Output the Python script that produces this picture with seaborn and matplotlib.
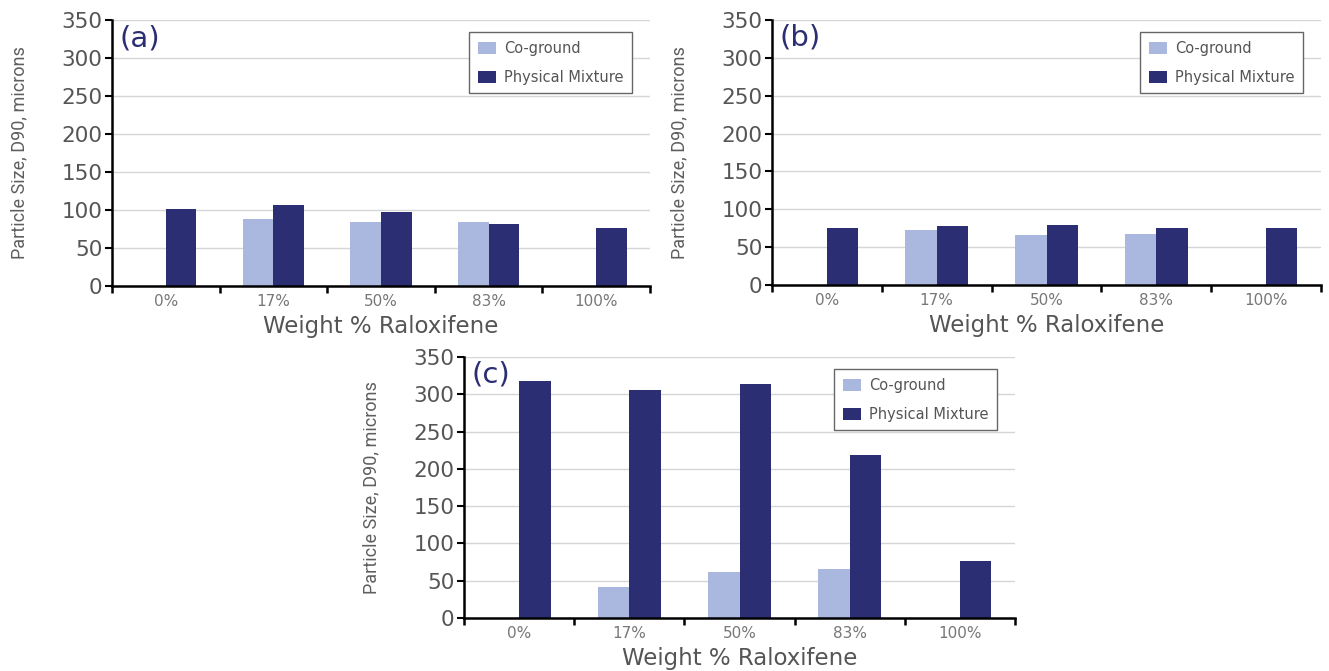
import numpy as np
import pandas as pd
import seaborn as sns
import matplotlib.pyplot as plt

sns.set_theme(style="white")
plt.rcParams['font.family'] = ['DejaVu Sans']

# Data
categories = ['0%', '17%', '50%', '83%', '100%']
series = ['Co-ground', 'Physical Mixture']

a_coground = [np.nan, 88, 84, 84, np.nan]
a_physical = [101, 106, 97, 81, 76]
b_coground = [np.nan, 72, 66, 68, np.nan]
b_physical = [75, 78, 79, 75, 75]
c_coground = [np.nan, 42, 62, 66, np.nan]
c_physical = [318, 306, 314, 218, 77]

colors = ['#aab8e0', '#2b2e72']
text_gray = '#555555'

W, H = 1329, 671
fig = plt.figure(figsize=(W / 100, H / 100), dpi=100)


def px_axes(left, right, top, bottom):
    return fig.add_axes([left / W, 1 - bottom / H, (right - left) / W, (bottom - top) / H])


def panel(ax, label, coground, physical):
    df = pd.DataFrame({
        'pct': categories * 2,
        'series': [series[0]] * len(categories) + [series[1]] * len(categories),
        'size': coground + physical,
    }).dropna()
    sns.barplot(data=df, x='pct', y='size', hue='series', order=categories,
                hue_order=series, palette=colors, width=0.57, errorbar=None,
                saturation=1, linewidth=0, ax=ax)

    ax.set_xlim(-0.5, len(categories) - 0.5)
    ax.set_ylim(0, 350)
    ax.set_yticks(range(0, 351, 50))
    ax.yaxis.grid(True, color='#d6d6d6', lw=1)
    ax.set_axisbelow(True)
    for s in ['top', 'right']:
        ax.spines[s].set_visible(False)
    for s in ['left', 'bottom']:
        ax.spines[s].set_color('black')
        ax.spines[s].set_linewidth(1.8)

    # ticks between categories, labels at centres
    ax.set_xticks(np.arange(-0.5, len(categories)), minor=True)
    ax.tick_params(axis='x', which='minor', bottom=True, length=5, width=1.8,
                   color='black', direction='out')
    ax.tick_params(axis='x', which='major', length=0, labelsize=11,
                   labelcolor='#777777', pad=6)
    ax.tick_params(axis='y', left=True, length=5, width=1.5, color='black',
                   labelsize=15.5, labelcolor=text_gray, pad=2)

    bb = ax.get_position()
    wpx, hpx = bb.width * W, bb.height * H
    ax.set_xlabel('Weight % Raloxifene', fontsize=16.5, color=text_gray)
    ax.xaxis.set_label_coords(0.5, -29 / hpx)
    ax.set_ylabel('Particle Size, D90, microns', fontsize=13, color='#5e5e5e',
                  family=['Roboto', 'DejaVu Sans'])
    ax.yaxis.set_label_coords(-84 / wpx, 0.5)

    ax.text(7 / wpx, 1 - 18 / hpx, label, transform=ax.transAxes,
            fontsize=21, color='#2b2e72', va='center', ha='left')

    handles, labels = ax.get_legend_handles_labels()
    leg = ax.legend(handles, labels, loc='upper right',
                    bbox_to_anchor=(1 - 18 / wpx, 1 - 12 / hpx),
                    fontsize=10.5, labelcolor=text_gray, frameon=True,
                    fancybox=False, framealpha=1, edgecolor='#666666',
                    borderaxespad=0, handlelength=1.2, handleheight=0.9,
                    labelspacing=0.95, borderpad=0.6, handletextpad=0.55)
    leg.get_frame().set_linewidth(1)


ax_a = px_axes(112, 650, 20, 286)
ax_b = px_axes(772, 1321, 20, 285)
ax_c = px_axes(464, 1015, 357, 618)

panel(ax_a, '(a)', a_coground, a_physical)
panel(ax_b, '(b)', b_coground, b_physical)
panel(ax_c, '(c)', c_coground, c_physical)

fig.savefig('out.png', dpi=100)
